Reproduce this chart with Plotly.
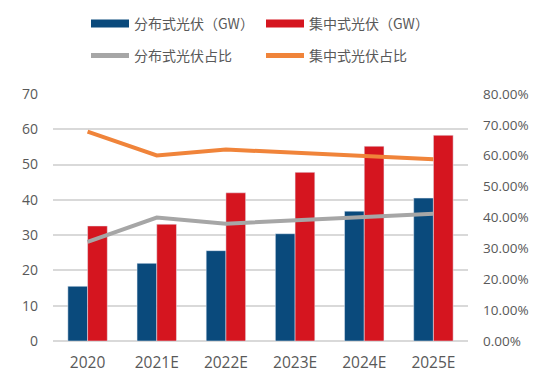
import plotly.graph_objects as go

categories = ["2020", "2021E", "2022E", "2023E", "2024E", "2025E"]
distributed_gw = [15.5, 22.0, 25.6, 30.4, 36.8, 40.5]
centralized_gw = [32.6, 33.1, 42.0, 47.8, 55.2, 58.3]
distributed_share = [0.321, 0.400, 0.380, 0.390, 0.402, 0.412]
centralized_share = [0.678, 0.601, 0.620, 0.610, 0.599, 0.589]

left_ticks = [0, 10, 20, 30, 40, 50, 60, 70]
right_ticks = [0, 0.1, 0.2, 0.3, 0.4, 0.5, 0.6, 0.7, 0.8]

BLUE = "#0a4a7c"
RED = "#d5151f"
GRAY = "#a6a6a6"
ORANGE = "#f0843a"
TXT = "#595959"
FONT = "Noto Sans CJK SC"

fig = go.Figure()
fig.add_bar(x=categories, y=distributed_gw, marker_color=BLUE, showlegend=False, name="分布式光伏（GW）")
fig.add_bar(x=categories, y=centralized_gw, marker_color=RED, showlegend=False, name="集中式光伏（GW）")
fig.add_scatter(x=categories, y=distributed_share, yaxis="y2", mode="lines",
                line=dict(color=GRAY, width=4), showlegend=False, name="分布式光伏占比")
fig.add_scatter(x=categories, y=centralized_share, yaxis="y2", mode="lines",
                line=dict(color=ORANGE, width=4), showlegend=False, name="集中式光伏占比")

# legend entries
fig.add_scatter(x=[None], y=[None], mode="lines", line=dict(color=BLUE, width=8),
                name="分布式光伏（GW）", legend="legend")
fig.add_scatter(x=[None], y=[None], mode="lines", line=dict(color=RED, width=8),
                name="集中式光伏（GW）", legend="legend")
fig.add_scatter(x=[None], y=[None], mode="lines", line=dict(color=GRAY, width=5),
                name="分布式光伏占比", legend="legend2")
fig.add_scatter(x=[None], y=[None], mode="lines", line=dict(color=ORANGE, width=5),
                name="集中式光伏占比", legend="legend2")

leg_common = dict(orientation="h", xref="container", yref="container", xanchor="left", yanchor="middle",
                  entrywidth=122, entrywidthmode="pixels", itemwidth=38,
                  font=dict(size=14, family=FONT, color=TXT), bgcolor="rgba(0,0,0,0)")

fig.update_layout(
    width=550, height=386,
    margin=dict(l=53, r=82, t=94, b=45, autoexpand=False),
    paper_bgcolor="white", plot_bgcolor="white",
    barmode="group", bargap=0.43, bargroupgap=0,
    font=dict(family=FONT, color=TXT, size=14),
    xaxis=dict(showgrid=False, showline=False, ticks="", tickfont=dict(size=15.5, family="Open Sans", color=TXT),
               ticklabelstandoff=10),
    yaxis=dict(range=[0, 70], tickvals=left_ticks, showgrid=True, gridcolor="#d9d9d9", gridwidth=1.5,
               zeroline=True, zerolinecolor="#d9d9d9", zerolinewidth=1.5,
               tickfont=dict(size=14, family="Open Sans", color=TXT), ticklabelstandoff=14),
    yaxis2=dict(range=[0, 0.8], tickvals=right_ticks, tickformat=".2%", overlaying="y", side="right",
                showgrid=False, zeroline=False, tickfont=dict(size=13.5, family="Open Sans", color=TXT),
                ticklabelstandoff=14),
    legend=dict(x=86 / 550, y=1 - 24 / 386, **leg_common),
    legend2=dict(x=86 / 550, y=1 - 56 / 386, **leg_common),
)

fig.write_html("out.html", config={"displayModeBar": False},
               post_script="document.body.style.margin='0';")
